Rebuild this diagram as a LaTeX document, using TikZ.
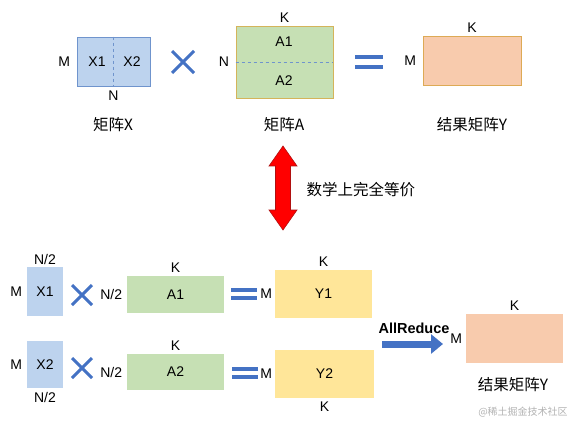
\documentclass[tikz,border=0pt]{standalone}
\usepackage{fontspec}
\setmainfont{Liberation Sans}
\newfontfamily\cjk{Noto Sans CJK SC}
\usepackage{xcolor}
\usepackage{tikz}
\usetikzlibrary{arrows.meta,positioning,calc}

\definecolor{xfill}{HTML}{BDD3EE}
\definecolor{xline}{HTML}{6F94CD}
\definecolor{afill}{HTML}{C6E0B4}
\definecolor{aline}{HTML}{D4B45A}
\definecolor{yfill}{HTML}{F8CBAD}
\definecolor{yline}{HTML}{DDAA55}
\definecolor{pfill}{HTML}{FFE699}
\definecolor{opblue}{HTML}{4472C4}
\definecolor{redline}{HTML}{B01010}

\begin{document}
\begin{tikzpicture}[x=1pt,y=-1pt,
    font=\fontsize{14}{16}\selectfont,
    mat/.style={inner sep=0pt, line width=0.8pt},
    cjklbl/.style={font=\cjk\fontsize{15.5}{17}\selectfont},
    opline/.style={opblue, line width=3pt},
    eqline/.style={opblue, line width=3.5pt}]
\useasboundingbox (0,0) rectangle (583,422);

% ---- top: full product ----
\node[mat, fill=xfill, draw=xline, minimum width=73pt, minimum height=49pt] (X) at (113.5,61.5) {};
\draw[xline, dashed, line width=0.8pt] (X.north) -- (X.south);
\node (X1) at (97,62) {X1};
\node (X2) at (132,62) {X2};
\node[left=3pt of X] (XM) {M};
\node[below=1pt of X] (XN) {N};
\node[cjklbl] (capX) at (113,125) {矩阵X};

\coordinate (mulT) at (183,62);
\draw[opline] ($(mulT)+(-11,-11)$) -- ($(mulT)+(11,11)$)
              ($(mulT)+(-11,11)$) -- ($(mulT)+(11,-11)$);

\node[mat, fill=afill, draw=aline, minimum width=97pt, minimum height=72pt] (A) at (284.5,62) {};
\draw[xline, dashed, line width=0.8pt] (A.west) -- (A.east);
\node (A1) at (284,42) {A1};
\node (A2) at (284,81) {A2};
\node[left=3pt of A] (AN) {N};
\node[above=0pt of A] (AK) {K};
\node[cjklbl] (capA) at (284,125) {矩阵A};

\coordinate (eqT) at (369,62);
\draw[eqline] ($(eqT)+(-14,-5)$) -- ($(eqT)+(14,-5)$)
              ($(eqT)+(-14,5)$) -- ($(eqT)+(14,5)$);

\node[mat, fill=yfill, draw=yline, minimum width=98pt, minimum height=49pt] (Y) at (472,60.5) {};
\node[left=3pt of Y] (YM) {M};
\node[above=0pt of Y] (YK) {K};
\node[cjklbl] (capY) at (472,125) {结果矩阵Y};

% ---- equivalence ----
\coordinate (eqv) at (283,188);
\draw[fill=red, draw=redline, line width=0.6pt] ($(eqv)+(0,-42)$) -- ++(14,20) -- ++(-6.5,0) -- ++(0,44)
  -- ++(6.5,0) -- ++(-14,20) -- ++(-14,-20) -- ++(6.5,0) -- ++(0,-44) -- ++(-6.5,0) -- cycle;
\node[cjklbl, anchor=west] (eqtxt) at (303,190) {数学上完全等价};

% ---- bottom: split product ----
\node[mat, fill=xfill, minimum width=36pt, minimum height=49pt] (X1b) at (45,291.5) {X1};
\node[above=-2pt of X1b] (X1N) {N/2};
\node[left=1pt of X1b] (X1M) {M};
\coordinate (mulB1) at (82,295);
\draw[opline] ($(mulB1)+(-10,-10)$) -- ($(mulB1)+(10,10)$)
              ($(mulB1)+(-10,10)$) -- ($(mulB1)+(10,-10)$);
\node[mat, fill=afill, minimum width=97pt, minimum height=37pt] (A1b) at (175.5,294.5) {A1};
\node[left=1pt of A1b] (A1N) {N/2};
\node[above=0pt of A1b] (A1K) {K};
\coordinate (eqB1) at (244,294);
\draw[eqline] ($(eqB1)+(-13,-4)$) -- ($(eqB1)+(13,-4)$)
              ($(eqB1)+(-13,4)$) -- ($(eqB1)+(13,4)$);
\node[mat, fill=pfill, minimum width=97pt, minimum height=48pt] (Y1b) at (323.5,294) {Y1};
\node[left=-1pt of Y1b] (Y1M) {M};
\node[above=0pt of Y1b] (Y1K) {K};

\node[mat, fill=xfill, minimum width=36pt, minimum height=47pt] (X2b) at (45,364.5) {X2};
\node[below=0pt of X2b] (X2N) {N/2};
\node[left=1pt of X2b] (X2M) {M};
\coordinate (mulB2) at (82,368);
\draw[opline] ($(mulB2)+(-10,-10)$) -- ($(mulB2)+(10,10)$)
              ($(mulB2)+(-10,10)$) -- ($(mulB2)+(10,-10)$);
\node[mat, fill=afill, minimum width=97pt, minimum height=36pt] (A2b) at (175.5,372) {A2};
\node[left=1pt of A2b] (A2N) {N/2};
\node[above=0pt of A2b] (A2K) {K};
\coordinate (eqB2) at (245,373);
\draw[eqline] ($(eqB2)+(-13,-4)$) -- ($(eqB2)+(13,-4)$)
              ($(eqB2)+(-13,4)$) -- ($(eqB2)+(13,4)$);
\node[mat, fill=pfill, minimum width=99pt, minimum height=48pt] (Y2b) at (324.5,374) {Y2};
\node[left=-1pt of Y2b] (Y2M) {M};
\node[below=0pt of Y2b] (Y2K) {K};

% ---- allreduce ----
\coordinate (arS) at (382,344);
\coordinate (arE) at (443,344);
\draw[opblue, line width=7pt, -{Triangle[length=12pt,width=19pt]}] (arS) -- (arE);
\node[font=\bfseries\fontsize{14.5}{16}\selectfont] (arTxt) at (414,328) {AllReduce};
\node[mat, fill=yfill, minimum width=97pt, minimum height=49pt] (Yb) at (514.5,338.5) {};
\node[left=0pt of Yb] (YbM) {M};
\node[above=0pt of Yb] (YbK) {K};
\node[cjklbl] (capYb) at (513,385) {结果矩阵Y};

\node[font=\cjk\fontsize{10}{11}\selectfont, text=black!30] (wm) at (523,412) {@稀土掘金技术社区};
\end{tikzpicture}
\end{document}
